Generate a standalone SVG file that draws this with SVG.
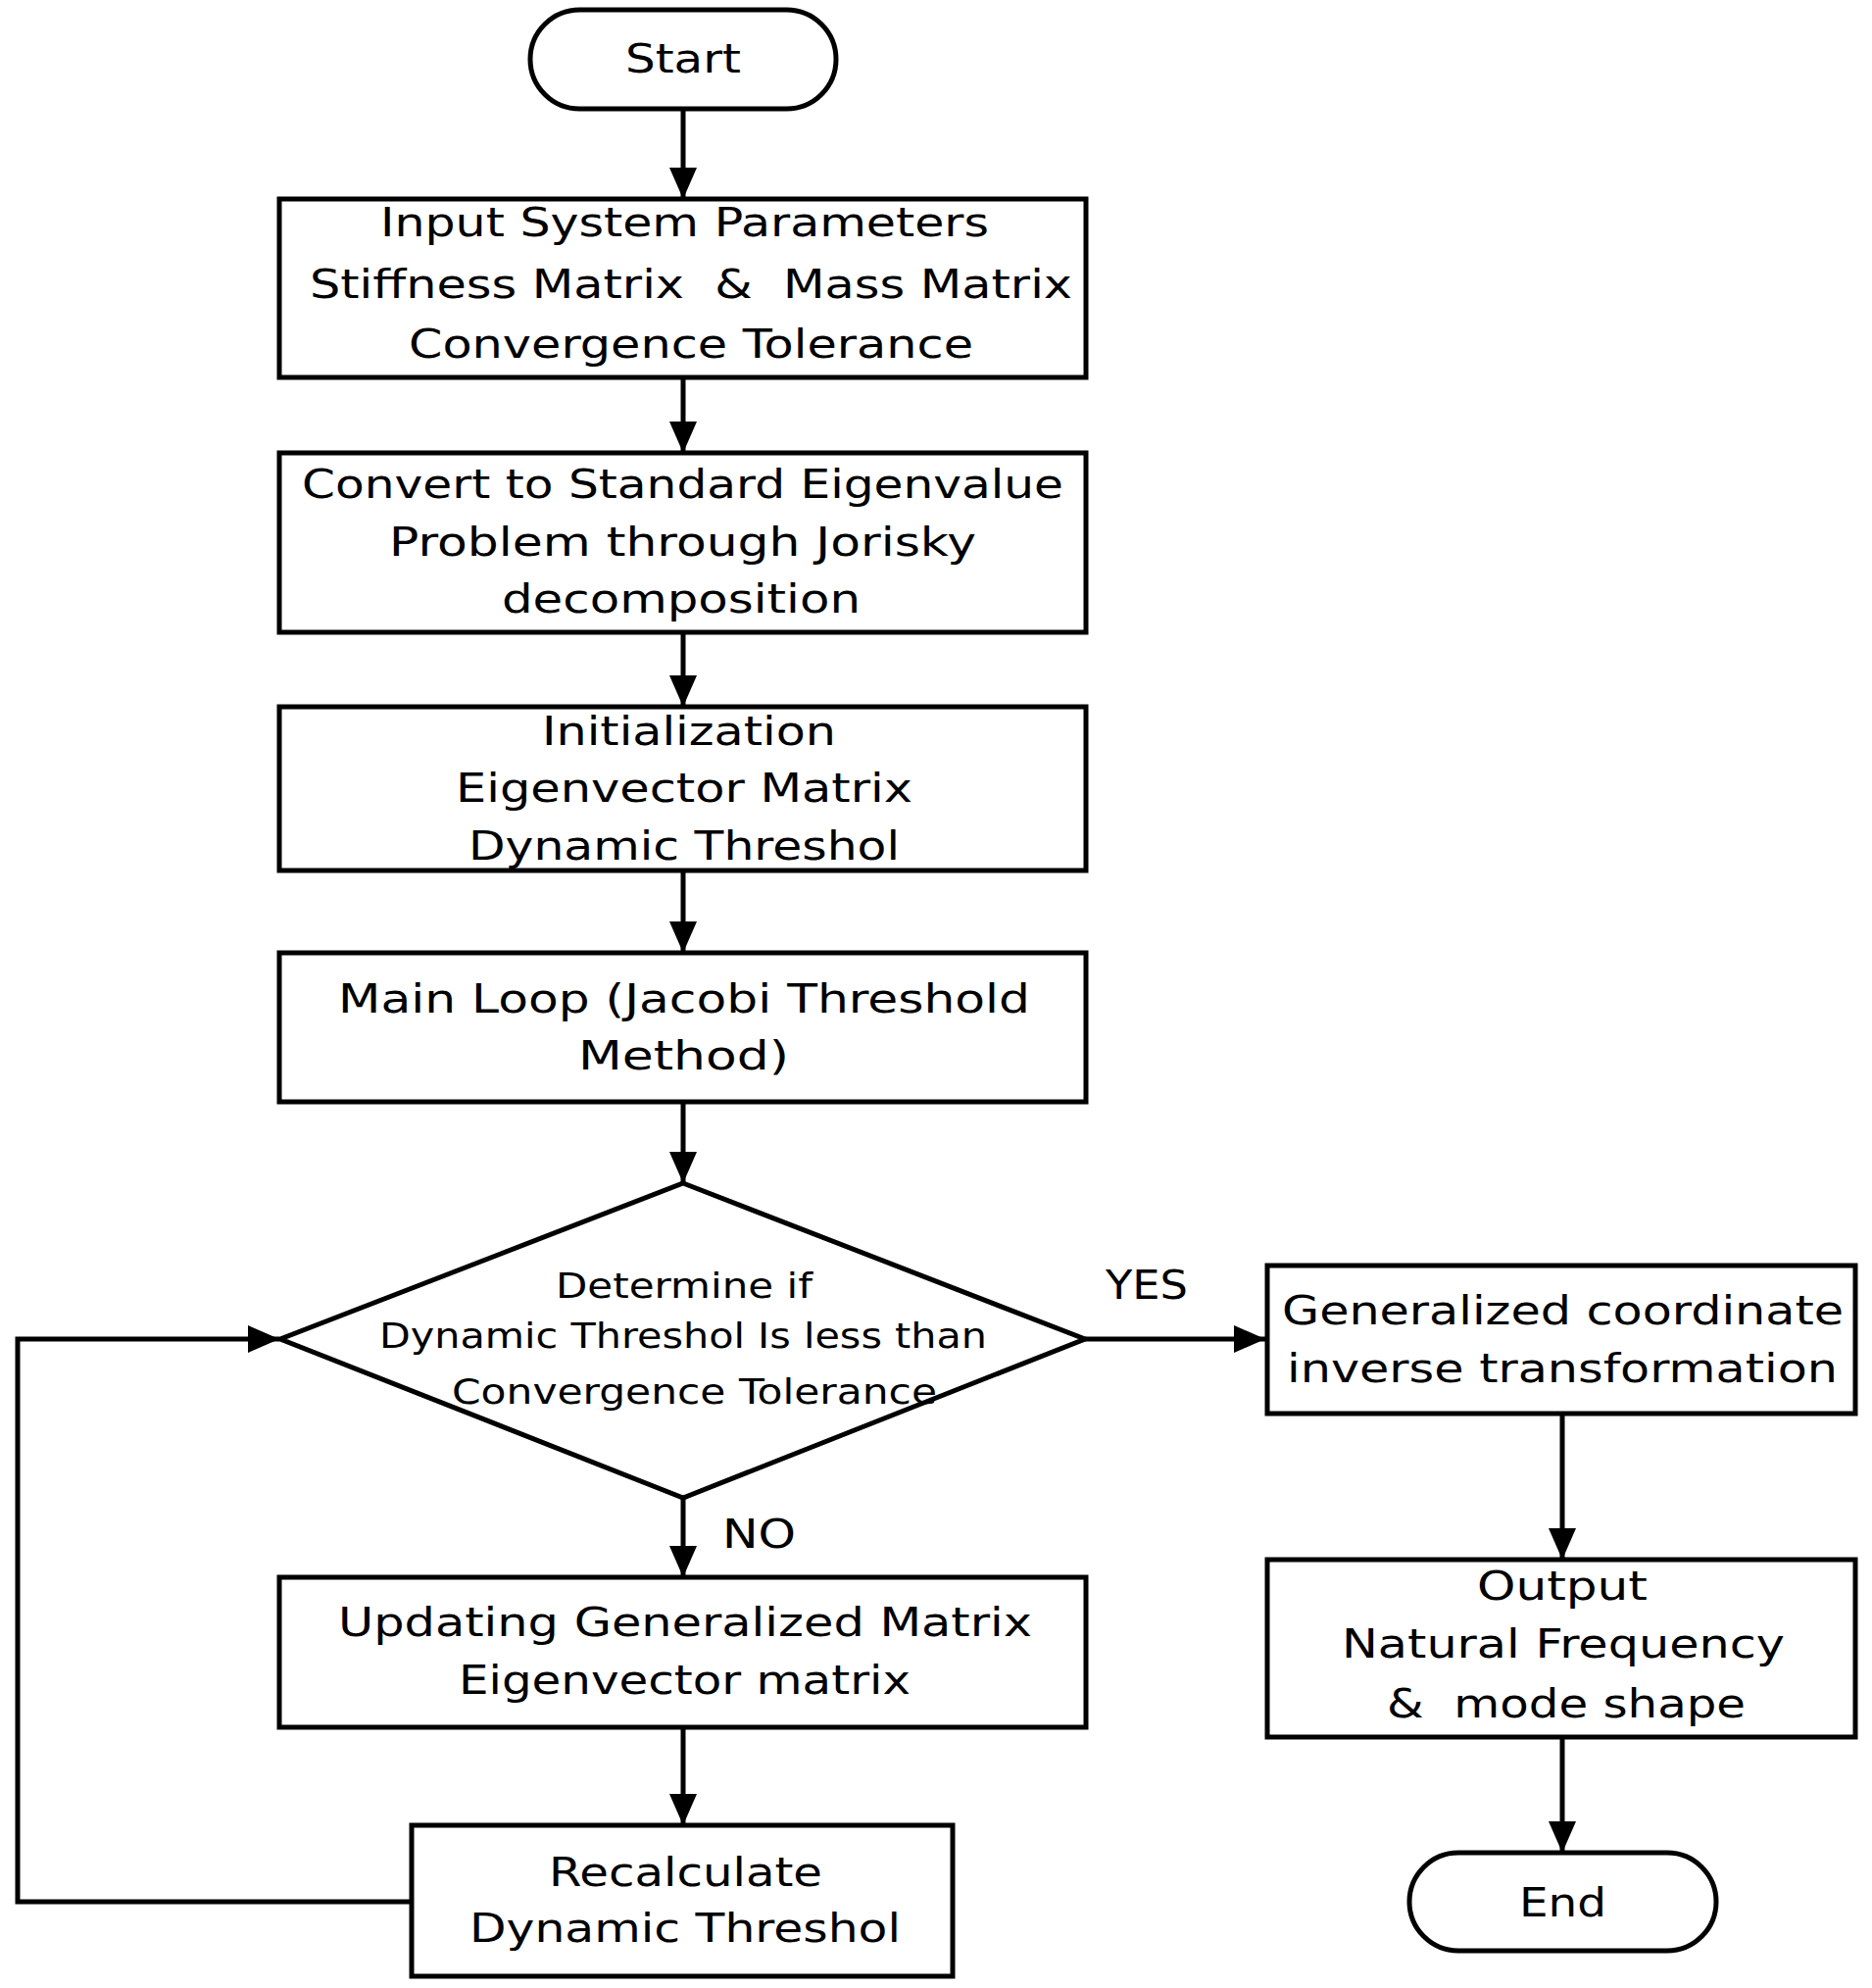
<svg xmlns="http://www.w3.org/2000/svg" width="1910" height="2028" viewBox="0 0 1910 2028">
<style>
.box{fill:#fff;stroke:#000;stroke-width:5}
.t{font-family:"DejaVu Sans",Verdana,sans-serif;font-size:40px;fill:#000}
.d{font-family:"DejaVu Sans",Verdana,sans-serif;font-size:35px;fill:#000}
.c{fill:none;stroke:#000;stroke-width:5}
</style>
<defs>
<marker id="ah" markerUnits="userSpaceOnUse" viewBox="0 0 32 28" markerWidth="32" markerHeight="28" refX="32" refY="14" orient="auto">
<path d="M0,0 L32,14 L0,28 z" fill="#000"/>
</marker>
</defs>
<rect width="1910" height="2028" fill="#fff"/>
<g id="connectors">
<line class="c" x1="697" y1="111" x2="697" y2="203" marker-end="url(#ah)"/>
<line class="c" x1="697" y1="385" x2="697" y2="462" marker-end="url(#ah)"/>
<line class="c" x1="697" y1="645" x2="697" y2="721" marker-end="url(#ah)"/>
<line class="c" x1="697" y1="888" x2="697" y2="972" marker-end="url(#ah)"/>
<line class="c" x1="697" y1="1124" x2="697" y2="1207" marker-end="url(#ah)"/>
<line class="c" x1="697" y1="1528" x2="697" y2="1609" marker-end="url(#ah)"/>
<line class="c" x1="697" y1="1762" x2="697" y2="1862" marker-end="url(#ah)"/>
<polyline class="c" points="420,1940 18,1940 18,1366 285,1366" marker-end="url(#ah)"/>
<line class="c" x1="1107" y1="1366" x2="1291" y2="1366" marker-end="url(#ah)"/>
<line class="c" x1="1594" y1="1442" x2="1594" y2="1591" marker-end="url(#ah)"/>
<line class="c" x1="1594" y1="1772" x2="1594" y2="1890" marker-end="url(#ah)"/>
<text class="t" x="1128" y="1325" textLength="84" lengthAdjust="spacingAndGlyphs">YES</text>
<text class="t" x="737" y="1579" textLength="75" lengthAdjust="spacingAndGlyphs">NO</text>
</g>
<g id="start">
<rect class="box" x="541" y="10" width="312" height="101" rx="50.5"/>
<text class="t" x="638" y="74" textLength="118" lengthAdjust="spacingAndGlyphs">Start</text>
</g>
<g id="input">
<rect class="box" x="285" y="203" width="823" height="182"/>
<text class="t" x="388" y="241" textLength="621" lengthAdjust="spacingAndGlyphs">Input System Parameters</text>
<text class="t" x="316" y="304" textLength="778" lengthAdjust="spacingAndGlyphs">Stiffness Matrix &#160;&amp;&#160; Mass Matrix</text>
<text class="t" x="417" y="365" textLength="576" lengthAdjust="spacingAndGlyphs">Convergence Tolerance</text>
</g>
<g id="convert">
<rect class="box" x="285" y="462" width="823" height="183"/>
<text class="t" x="308" y="508" textLength="777" lengthAdjust="spacingAndGlyphs">Convert to Standard Eigenvalue</text>
<text class="t" x="397" y="567" textLength="599" lengthAdjust="spacingAndGlyphs">Problem through Jorisky</text>
<text class="t" x="512" y="625" textLength="366" lengthAdjust="spacingAndGlyphs">decomposition</text>
</g>
<g id="init">
<rect class="box" x="285" y="721" width="823" height="167"/>
<text class="t" x="553" y="760" textLength="300" lengthAdjust="spacingAndGlyphs">Initialization</text>
<text class="t" x="465" y="818" textLength="466" lengthAdjust="spacingAndGlyphs">Eigenvector Matrix</text>
<text class="t" x="478" y="877" textLength="440" lengthAdjust="spacingAndGlyphs">Dynamic Threshol</text>
</g>
<g id="mainloop">
<rect class="box" x="285" y="972" width="823" height="152"/>
<text class="t" x="345" y="1033" textLength="706" lengthAdjust="spacingAndGlyphs">Main Loop (Jacobi Threshold</text>
<text class="t" x="590" y="1091" textLength="215" lengthAdjust="spacingAndGlyphs">Method)</text>
</g>
<g id="decision">
<polygon class="box" points="697,1207 1107,1366 697,1528 286,1366"/>
<text class="d" x="567" y="1324" textLength="262" lengthAdjust="spacingAndGlyphs">Determine if</text>
<text class="d" x="387" y="1375" textLength="620" lengthAdjust="spacingAndGlyphs">Dynamic Threshol Is less than</text>
<text class="d" x="461" y="1432" textLength="495" lengthAdjust="spacingAndGlyphs">Convergence Tolerance</text>
</g>
<g id="updating">
<rect class="box" x="285" y="1609" width="823" height="153"/>
<text class="t" x="345" y="1669" textLength="708" lengthAdjust="spacingAndGlyphs">Updating Generalized Matrix</text>
<text class="t" x="468" y="1728" textLength="461" lengthAdjust="spacingAndGlyphs">Eigenvector matrix</text>
</g>
<g id="recalculate">
<rect class="box" x="420" y="1862" width="552" height="154"/>
<text class="t" x="560" y="1924" textLength="279" lengthAdjust="spacingAndGlyphs">Recalculate</text>
<text class="t" x="479" y="1981" textLength="440" lengthAdjust="spacingAndGlyphs">Dynamic Threshol</text>
</g>
<g id="inverse">
<rect class="box" x="1293" y="1291" width="600" height="151"/>
<text class="t" x="1308" y="1351" textLength="573" lengthAdjust="spacingAndGlyphs">Generalized coordinate</text>
<text class="t" x="1313" y="1410" textLength="562" lengthAdjust="spacingAndGlyphs">inverse transformation</text>
</g>
<g id="output">
<rect class="box" x="1293" y="1591" width="600" height="181"/>
<text class="t" x="1507" y="1632" textLength="174" lengthAdjust="spacingAndGlyphs">Output</text>
<text class="t" x="1369" y="1691" textLength="452" lengthAdjust="spacingAndGlyphs">Natural Frequency</text>
<text class="t" x="1415" y="1752" textLength="366" lengthAdjust="spacingAndGlyphs">&amp;&#160; mode shape</text>
</g>
<g id="end">
<rect class="box" x="1438" y="1890" width="313" height="100" rx="50"/>
<text class="t" x="1550" y="1955" textLength="89" lengthAdjust="spacingAndGlyphs">End</text>
</g>
</svg>
